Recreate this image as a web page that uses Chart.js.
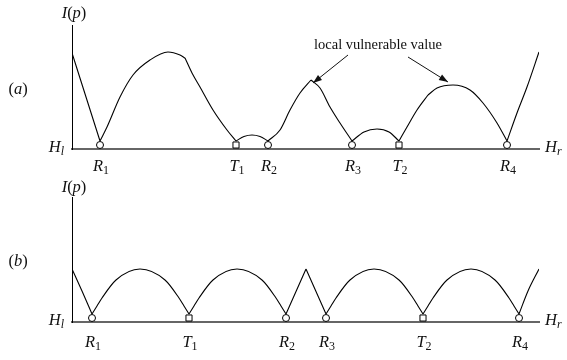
<!DOCTYPE html>
<html>
<head>
<meta charset="utf-8">
<script src="https://cdn.jsdelivr.net/npm/chart.js@4.4.0/dist/chart.umd.min.js"></script>
<style>
  body { margin: 0; background: #fff; }
  .panel { position: absolute; left: 0; width: 567px; height: 180px; }
</style>
</head>
<body>
<div class="panel" style="top:0"><canvas id="chartA" width="567" height="180"></canvas></div>
<div class="panel" style="top:180px"><canvas id="chartB" width="567" height="180"></canvas></div>
<script>
// x = position between H_l and H_r, y = I(p); each piece ends at a cusp
const curveA = [
    [[0, 92], [14, 48], [28, 4]],
    [[28, 4], [35, 18], [48, 48], [61, 70], [78, 85], [96, 93], [108, 90], [113, 87]],
    [[113, 87], [120, 72], [128, 58], [141, 35], [155, 15], [164, 4]],
    [[164, 4], [172, 8.5], [180, 10], [188, 8.5], [196, 4]],
    [[196, 4], [208, 15], [218, 35], [228, 52], [239, 65]],
    [[239, 65], [248, 57], [258, 38], [268, 22], [280, 4]],
    [[280, 4], [292, 13], [305, 16], [317, 13], [327, 4]],
    [[327, 4], [335, 18], [345, 35], [356, 50]],
    [[356, 50], [365, 57], [381, 60], [398, 55], [411, 42], [425, 22], [435, 4]],
    [[435, 4], [445, 32], [455, 58], [467, 93]]
];
const curveB = [
    [[0, 49], [10, 27], [20, 4]],
    [[20, 4], [25, 12], [30, 20], [44, 38], [68, 49], [93, 38], [107, 20], [112, 12], [117, 4]],
    [[117, 4], [122, 12], [127, 20], [141, 38], [165, 49], [190, 38], [204, 20], [209, 12], [214, 4]],
    [[214, 4], [234, 49]],
    [[234, 49], [254, 4]],
    [[254, 4], [259, 12], [264, 20], [278, 38], [302, 49], [327, 38], [341, 20], [346, 12], [351, 4]],
    [[351, 4], [356, 12], [361, 20], [375, 38], [399, 49], [423, 38], [437, 20], [442, 12], [447, 4]],
    [[447, 4], [456, 27], [467, 49]]
];

// points on the H axis (R = circle, T = square)
const markerNames = ['R_1', 'T_1', 'R_2', 'R_3', 'T_2', 'R_4'];
const markerPosA = [28, 164, 196, 280, 327, 435];
const markerPosB = [20, 117, 214, 254, 351, 447];

// annotation in (a): text and arrows [tailX, tailY, tipX, tipY]
const noteText = 'local vulnerable value';
const noteAt = [306, 100];
const noteArrows = [[276, 90, 241, 62], [336, 88, 376, 63]];

const serif = '"Liberation Serif", "DejaVu Serif", serif';
const mathSize = 16.5;

function curveData(pieces) {
    const pts = [];
    pieces.forEach((piece, k) => {
        if (k > 0) pts.push({x: piece[0][0], y: null});
        piece.forEach(([x, y]) => pts.push({x: x, y: y}));
    });
    return pts;
}

function parseLabel(s) {
    const [main, sub] = s.split('_');
    const runs = [[main, 'i']];
    if (sub) runs.push([sub, 's']);
    return runs;
}

// runs: [text, kind] kind: i = italic, r = roman, s = roman sub, si = italic sub
function drawRuns(ctx, runs, x, y, size, align) {
    const subSize = Math.round(size * 0.72);
    const fontOf = k => k === 'i' ? `italic ${size}px ${serif}`
        : k === 'r' ? `${size}px ${serif}`
        : k === 's' ? `${subSize}px ${serif}`
        : `italic ${subSize}px ${serif}`;
    let total = 0;
    const widths = runs.map(([t, k]) => {
        ctx.font = fontOf(k);
        const w = ctx.measureText(t).width;
        total += w;
        return w;
    });
    let cx = align === 'center' ? x - total / 2 : align === 'right' ? x - total : x;
    ctx.textAlign = 'left';
    ctx.textBaseline = 'alphabetic';
    runs.forEach(([t, k], i) => {
        ctx.font = fontOf(k);
        const base = y + size * 0.35 + (k === 's' || k === 'si' ? size * 0.22 : 0);
        ctx.fillText(t, cx, base);
        cx += widths[i];
    });
}

function arrow(ctx, x0, y0, x1, y1) {
    ctx.beginPath();
    ctx.moveTo(x0, y0);
    ctx.lineTo(x1, y1);
    ctx.stroke();
    const ang = Math.atan2(y1 - y0, x1 - x0);
    const L = 9, W = 3.2;
    ctx.beginPath();
    ctx.moveTo(x1, y1);
    ctx.lineTo(x1 - L * Math.cos(ang) + W * Math.sin(ang), y1 - L * Math.sin(ang) - W * Math.cos(ang));
    ctx.lineTo(x1 - L * Math.cos(ang) - W * Math.sin(ang), y1 - L * Math.sin(ang) + W * Math.cos(ang));
    ctx.closePath();
    ctx.fill();
}

const panelText = {
    id: 'panelText',
    afterDraw(chart, args, opts) {
        const {ctx, chartArea: a, scales: {x, y}} = chart;
        ctx.save();
        ctx.fillStyle = '#111';
        ctx.strokeStyle = '#111';
        ctx.lineWidth = 1;
        drawRuns(ctx, [['I', 'i'], ['(', 'r'], ['p', 'i'], [')', 'r']], a.left + 2, a.top - opts.titleGap, mathSize, 'center');
        drawRuns(ctx, [['(', 'r'], [opts.tag, 'i'], [')', 'r']], 18, (a.top + a.bottom) / 2 + 1, mathSize, 'center');
        drawRuns(ctx, [['H', 'i'], ['l', 'si']], a.left - 8, a.bottom - 3, mathSize, 'right');
        drawRuns(ctx, [['H', 'i'], ['r', 'si']], a.right + 6, a.bottom - 3, mathSize, 'left');
        opts.pos.forEach((p, i) => {
            drawRuns(ctx, parseLabel(markerNames[i]), x.getPixelForValue(p) + 1, a.bottom + opts.labelGap, mathSize, 'center');
        });
        if (opts.note) {
            ctx.font = `14.5px ${serif}`;
            ctx.textAlign = 'center';
            ctx.textBaseline = 'middle';
            ctx.fillText(noteText, x.getPixelForValue(noteAt[0]), y.getPixelForValue(noteAt[1]));
            noteArrows.forEach(([tx, ty, hx, hy]) => {
                arrow(ctx, x.getPixelForValue(tx), y.getPixelForValue(ty), x.getPixelForValue(hx), y.getPixelForValue(hy));
            });
        }
        ctx.restore();
    }
};

function makePanel(id, curve, pos, yMax, pad, text) {
    return new Chart(document.getElementById(id), {
        type: 'line',
        data: {
            datasets: [{
                data: pos.map(p => ({x: p, y: 0})),
                showLine: false,
                pointStyle: c => markerNames[c.dataIndex][0] === 'T' ? 'rect' : 'circle',
                pointRadius: c => markerNames[c.dataIndex][0] === 'T' ? 4.3 : 3.5,
                pointBackgroundColor: '#fff',
                pointBorderColor: '#000',
                pointBorderWidth: 1,
                clip: false
            }, {
                data: curveData(curve),
                borderColor: '#000',
                borderWidth: 1.1,
                pointRadius: 0,
                cubicInterpolationMode: 'monotone',
                spanGaps: false,
                fill: false
            }]
        },
        options: {
            responsive: false,
            animation: false,
            events: [],
            layout: {padding: pad},
            scales: {
                x: {
                    type: 'linear', min: 0, max: 467,
                    grid: {display: false, drawTicks: false},
                    ticks: {display: false},
                    border: {color: '#666', width: 2}
                },
                y: {
                    min: -4, max: yMax,
                    grid: {display: false, drawTicks: false},
                    ticks: {display: false},
                    border: {color: '#000', width: 1}
                }
            },
            plugins: {
                legend: {display: false},
                tooltip: {enabled: false},
                panelText: text
            }
        },
        plugins: [panelText]
    });
}

makePanel('chartA', curveA, markerPosA, 120, {left: 72, right: 28, top: 25, bottom: 31},
    {tag: 'a', pos: markerPosA, labelGap: 16, titleGap: 13, note: true});
makePanel('chartB', curveB, markerPosB, 121, {left: 72, right: 28, top: 17, bottom: 38},
    {tag: 'b', pos: markerPosB, labelGap: 19, titleGap: 11, note: false});
</script>
</body>
</html>
